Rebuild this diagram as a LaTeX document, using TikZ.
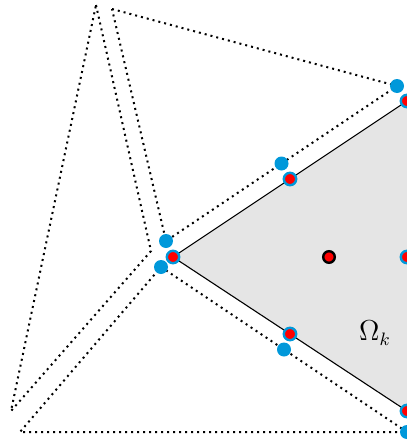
\documentclass[tikz,border=0pt]{standalone}
\usepackage{tikz}
\usetikzlibrary{calc}
\definecolor{elgray}{RGB}{229,229,229}
\definecolor{nbblue}{RGB}{0,152,218}
\definecolor{qred}{RGB}{255,0,0}
\tikzset{nbtri/.style={line width=1pt,dash pattern=on 1pt off 2pt},
  eledge/.style={line width=0.55pt,black},
  nbdot/.style={fill=nbblue},
  qdot/.style={draw=nbblue,fill=qred,line width=1.2pt},
  cdot/.style={draw=black,fill=qred,line width=1.2pt}}

\begin{document}
\begin{tikzpicture}[x=0.5pt,y=-0.5pt]
\useasboundingbox (0,0) rectangle (407,445);
\clip (0,0) rectangle (407,445);
% element Omega_k
\coordinate (vl) at (173,257);
\coordinate (vt) at (407,101);
\coordinate (vb) at (407,411);
\fill[elgray] (vl)--(vt)--(440,101)--(440,411)--(vb)--cycle;
\draw[eledge] (vt)--(vl)--(vb);
% neighbouring elements
\coordinate (na) at (96,5);
\coordinate (nb) at (151,251);
\coordinate (nc) at (11,411);
\draw[nbtri] (na)--(nb)--(nc)--cycle;
\coordinate (ma) at (112,9);
\coordinate (mb) at (397,86);
\coordinate (mc) at (166,241);
\draw[nbtri] (ma)--(mb)--(mc)--cycle;
\coordinate (pa) at (161,267);
\coordinate (pb) at (407,432);
\coordinate (pc) at (20,432);
\draw[nbtri] (pa)--(pb)--(pc)--cycle;
% points of the neighbours
\foreach \p in {mb,mc,pa,pb}
  \fill[nbdot] (\p) circle[radius=3.5pt];
\fill[nbdot] ($(mb)!0.5!(mc)$) circle[radius=3.5pt];
\fill[nbdot] ($(pa)!0.5!(pb)$) circle[radius=3.5pt];
% points of the element
\foreach \p in {vl,vt,vb}
  \draw[qdot] (\p) circle[radius=3.1pt];
\draw[qdot] ($(vl)!0.5!(vt)$) circle[radius=3.1pt];
\draw[qdot] ($(vl)!0.5!(vb)$) circle[radius=3.1pt];
\draw[qdot] (407,257) circle[radius=3.1pt];
\draw[cdot] (329,257) circle[radius=2.9pt];
\node[font=\fontsize{13.5}{16}\selectfont] (omk) at (375,333) {$\Omega_k$};
\end{tikzpicture}
\end{document}
